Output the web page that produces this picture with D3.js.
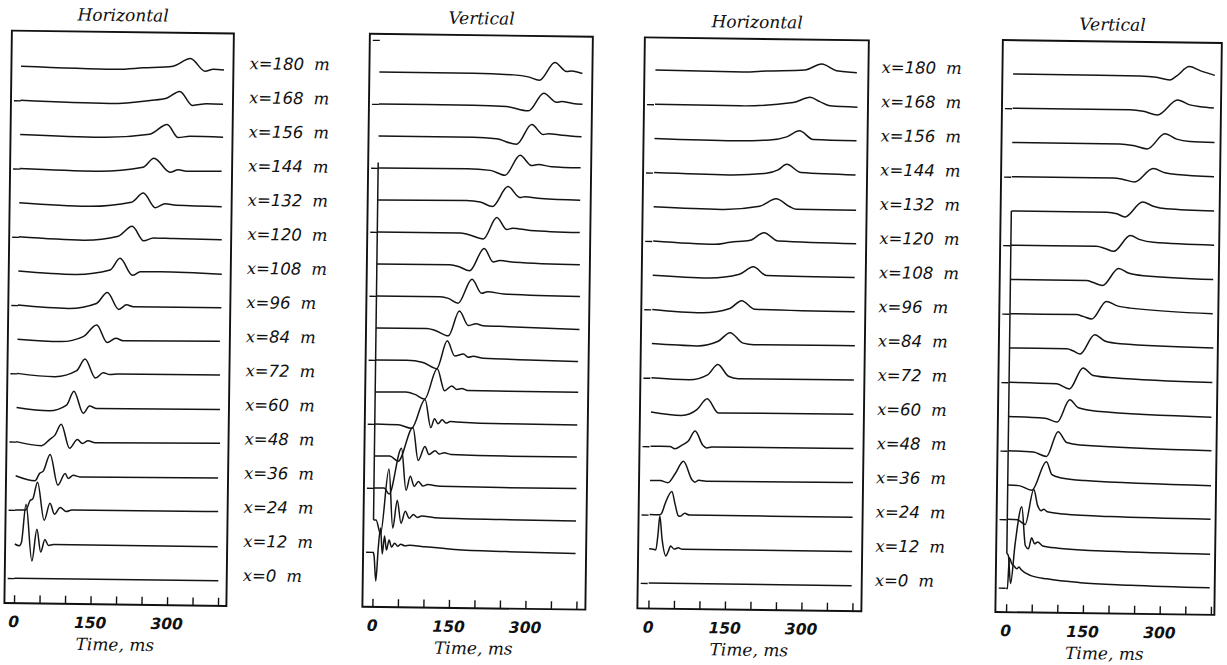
<!DOCTYPE html>
<html>
<head>
<meta charset="utf-8">
<script src="https://cdn.jsdelivr.net/npm/d3@7"></script>
<style>
  body { margin: 0; background: #fff; }
  svg { display: block; }
  .trace { fill: none; stroke: #141414; stroke-width: 1.5; stroke-linejoin: round; }
  .box { fill: none; stroke: #111; stroke-width: 1.9; }
  .axis line { stroke: #111; stroke-width: 1.4; }
  .axis path { display: none; }
  .serif { font-family: "DejaVu Serif", serif; font-style: italic; fill: #111; }
  .sans { font-family: "DejaVu Sans", sans-serif; font-style: oblique; fill: #111; }
</style>
</head>
<body>
<svg id="chart" width="1227" height="665"></svg>
<script>
// receiver offsets, top trace first
const offsets = [180, 168, 156, 144, 132, 120, 108, 96, 84, 72, 60, 48, 36, 24, 12, 0];
const timeTicks = [0, 50, 100, 150, 200, 250, 300, 350, 400];
const timeLabels = [0, 150, 300];
const offsetTicks = [192, 168, 144, 120, 96, 72, 48, 24, 0];

// traces: [time ms, amplitude], same order as offsets
const horizontalA = [
  [[0,0],[187,-1.8],[240,0],[298,2],[332,9.9],[361,-2.6],[377,-0.5],[398,-1]],
  [[0,0],[175,-2],[254,1.6],[286,4],[312,11],[337,-2.8],[365,-1],[397,-1.3]],
  [[0,0],[160,-1.7],[254,2],[288,11.9],[310,-1],[333,0.5],[398,0]],
  [[0,0],[151,-1.7],[242,3],[263,12],[295,-1.7],[311,1],[327,-0.5],[396,0]],
  [[0,0],[135,-2.7],[220,2],[243,11.3],[267,-3.2],[286,1],[308,-0.5],[397,-1.3]],
  [[0,0],[127,-2.5],[195,2],[222,12],[245,-2.3],[264,0.7],[303,0.3],[398,-0.3]],
  [[0,0],[111,-2.7],[180,2.2],[199,14],[224,-2.8],[239,0.8],[278,1],[399,-0.7]],
  [[0,0],[99,-2.7],[154,2.7],[175,13.8],[198,-3],[213,1.7],[226,0],[399,0]],
  [[0,0],[85,-1.8],[129,3.5],[155,15.3],[176,-2.2],[193,2.2],[207,0],[397,0.7]],
  [[0,0],[74,-2.8],[117,3.5],[133,15.3],[154,-3.7],[169,1.8],[182,0],[198,0.7],[398,1]],
  [[0,0],[64,-2.9],[98,3],[112,17],[131,-5],[143,2.5],[157,0],[399,0.7]],
  [[0,0],[50,-3.7],[66,2.7],[76,7],[88,18],[105,-6],[120,3],[130,-1],[141,1.7],[155,0],[400,1]],
  [[0,0],[38,-4.8],[47,2.7],[54,5],[67,21.8],[83,-8.8],[97,3],[103,-2],[113,1.2],[126,-0.3],[397,0.5]],
  [[0,0],[21,0],[29,9.6],[34,11],[43,28],[57,-10],[68,7],[77,-3.8],[88,3],[100,-1],[111,0.7],[398,1]],
  [[0,0],[9,-1.7],[13,1.7],[21,40],[34,-16.7],[43,15],[51,-7.7],[59,5],[66,-1],[76,0],[398,0]],
  [[0,0],[400,0]]
];

const verticalA = [
  [[0,0],[184,0],[263,-1.2],[292,-3],[314,-6.2],[344,11.7],[367,2.8],[377,3.5],[398,1]],
  [[0,0],[185,0],[250,-1],[293,-5],[323,12.8],[348,4],[358,4.7],[380,3],[399,2.3]],
  [[0,0],[186,0],[231,-1.4],[271,-6.5],[300,13.3],[323,3.5],[333,4.5],[360,3],[398,1.7]],
  [[0,0],[174,0.3],[220,-1],[249,-5.7],[278,14.5],[301,4.3],[314,5.5],[340,3.5],[397,2.7]],
  [[0,0],[174,0.5],[201,-0.7],[225,-5.2],[255,15],[279,4.2],[288,5.2],[320,3.5],[397,2.3]],
  [[0,0],[162,0],[178,-1.3],[208,-5.6],[234,16],[254,4],[265,5.5],[300,3.5],[397,2]],
  [[0,0],[143,0],[160,-1.5],[182,-5.7],[210,16.8],[228,3.5],[241,5],[270,3.5],[398,1.7]],
  [[0,0],[125,0],[141,-1.5],[160,-6.3],[187,17.9],[206,4],[218,5.7],[250,3.5],[399,2]],
  [[0,0],[99,0],[115,-1.5],[142,-7],[163,18],[181,3.5],[196,5.5],[210,3.5],[260,3],[399,1]],
  [[0,0],[61,0],[93,-2],[120,-8],[140,20],[155,5],[172,7],[182,3.8],[191,4.9],[211,3],[300,2],[397,1]],
  [[0,0],[60,0.3],[78,-2],[97,-6.5],[121,24],[136,2],[150,7],[160,3.5],[170,4.5],[180,2.7],[260,2.5],[398,2.3]],
  [[0,0],[46,-0.5],[72,-4],[98,25],[110,-3],[117,6],[124,1],[132,5],[140,1.7],[148,3.3],[160,3],[255,1.8],[397,1.6]],
  [[0,0],[30,0],[47,-5],[75,29],[86,-4],[99,10],[107,2],[119,6],[127,2.7],[137,4],[150,2.5],[256,1.5],[397,1.5]],
  [[0,0],[20,0],[30,-6],[53,40],[63,-2],[71,12],[79,2],[87,7],[96,2.5],[105,4],[130,2.5],[250,2],[397,2]],
  [[0,0],[5,0],[14,-14],[29,51],[38,-8],[46,20],[54,-3],[62,9],[70,2],[78,6],[86,3],[94,4.5],[120,3],[250,2],[397,1.5]],
  [[0,0],[2,-4],[6,-29],[10,4],[14,24],[18,-2],[22,16],[26,2],[31,12],[36,5],[42,9],[48,6],[54,8],[62,6.5],[72,7],[95,6],[160,3.5],[260,2],[397,1]]
];

const horizontalB = [
  [[0,0],[172,-0.8],[218,0.5],[293,2],[326,8.2],[355,1.7],[395,0]],
  [[0,0],[167,-0.5],[271,3.5],[304,9],[323,4.8],[343,0.7],[397,-0.3]],
  [[0,0],[158,-1.3],[226,0],[259,3.3],[284,9.6],[311,1],[396,0.3]],
  [[0,0],[146,-1.3],[220,0.8],[243,4.3],[260,10],[288,2],[395,0.3]],
  [[0,0],[133,-1.7],[208,2],[240,9.6],[267,1.8],[280,-0.6],[397,-0.7]],
  [[0,0],[121,-2.5],[151,-0.2],[190,2],[217,9.8],[245,1.7],[398,0]],
  [[0,0],[109,-2],[170,2.2],[197,9.7],[223,1.2],[396,0.3]],
  [[0,0],[97,-2.7],[152,2],[175,9.9],[201,1.6],[397,0.3]],
  [[0,0],[88,-1.7],[130,3.2],[153,12],[179,1.7],[200,0.3],[398,0.5]],
  [[0,0],[74,-1.5],[110,3.7],[130,14.2],[151,2.6],[170,0.3],[397,0.5]],
  [[0,0],[60,-3],[90,3],[110,14],[132,0],[397,0.5]],
  [[0,0],[38,0],[48,-2.3],[61,1.3],[74,5.7],[87,15.7],[103,1.3],[110,-1],[120,0],[398,0.3]],
  [[0,0],[20,0],[35,-2],[49,7],[65,19.5],[82,1.3],[88,-1.2],[95,0.7],[110,0],[398,0.5]],
  [[0,0],[20,0],[24,2],[30,11],[43,23.4],[50,10],[56,-0.6],[60,-1.3],[69,1.7],[78,0],[398,0]],
  [[0,0],[8,-0.5],[13,-1],[17,15],[20,33],[25,10],[33,-7],[37,-3],[42,3],[49,0],[57,1.3],[65,0],[398,0]],
  [[0,0],[398,0]]
];

const verticalB = [
  [[0,0],[248,-0.3],[280,-1.4],[306,-3.9],[319,0],[344,9.7],[365,5.8],[394,1.3]],
  [[0,0],[229,0],[255,-1.3],[283,-4.8],[322,10.5],[346,5.7],[366,4],[393,3]],
  [[0,0],[210,0],[236,-1.4],[264,-4.6],[298,10.7],[321,5.5],[347,3.3],[395,2.7]],
  [[0,0],[198,0],[218,-1.2],[240,-3.7],[276,10],[299,6],[322,4.3],[395,2.7]],
  [[0,0],[186,0],[206,-1.3],[222,-4.5],[256,10.7],[277,6.7],[303,4.3],[396,2.7]],
  [[0,0],[167,0],[184,-2],[201,-4.7],[233,11.2],[252,7.3],[278,4.8],[397,2.7]],
  [[0,0],[149,0],[162,-2],[180,-4.8],[211,12.4],[230,8],[260,5.5],[396,2.6]],
  [[0,0],[130,0],[143,-1.7],[160,-4.2],[188,13.6],[208,9.5],[235,7.2],[396,2.7]],
  [[0,0],[112,0],[125,-2.2],[138,-5],[166,14.4],[186,8.3],[216,5.8],[398,2.7]],
  [[0,0],[93,-1],[118,-5.9],[144,15.3],[164,7.9],[204,5.8],[397,2.3]],
  [[0,0],[71,-1.2],[95,-5],[119,17.5],[136,9.6],[172,6.4],[396,2]],
  [[0,0],[49,-1],[75,-5.2],[97,19.7],[114,9],[140,6.7],[397,2.7]],
  [[0,0],[22,-0.5],[47,-5],[75,23.8],[86,11],[102,8],[150,5.5],[397,2]],
  [[0,0],[20,-0.5],[35,-5],[51,30],[59,14],[66,9],[71,10.5],[78,8],[110,6],[200,4],[397,2.7]],
  [[0,0],[3,-2],[8,-30],[16,10],[28,47],[36,8],[42,5],[48,16],[54,10],[60,12],[70,8],[100,6],[200,3.5],[397,2]],
  [[0,0],[2,-1],[5,30],[10,24],[14,22],[20,19],[24,21],[28,18.5],[46,12.7],[79,9.4],[144,6],[241,4.2],[397,2.6]]
];

// vertical pen stroke at t = 0 inside the vertical panels: [time, from offset, to offset]
const verticalAMarker = [0, 146, 12];
const verticalBMarker = [0, 132, 12];

// layout of the four panels
const panels = [
  { title: "Horizontal", traces: horizontalA, left: 8, right: 230, top: 38.5, bottom: 611,
    t0: 17.6, pxPerMs: 0.51, first: 74, gap: 34.13, labelX: 246, marker: null },
  { title: "Vertical", traces: verticalA, left: 366, right: 589, top: 37, bottom: 610,
    t0: 376, pxPerMs: 0.51, first: 75, gap: 32, labelX: null, marker: verticalAMarker },
  { title: "Horizontal", traces: horizontalB, left: 641, right: 865, top: 37, bottom: 608,
    t0: 652, pxPerMs: 0.51, first: 69.5, gap: 34.2, labelX: 878, marker: null },
  { title: "Vertical", traces: verticalB, left: 999, right: 1218, top: 35, bottom: 607,
    t0: 1009.7, pxPerMs: 0.512, first: 68.8, gap: 34.25, labelX: null, marker: verticalBMarker }
];

const svg = d3.select("#chart");
svg.append("rect").attr("width", 1227).attr("height", 665).attr("fill", "#fff");

// the scanned page sits slightly tilted
const page = svg.append("g").attr("transform", "rotate(0.75 613 332)");

const amp = d3.scaleLinear().domain([0, 10]).range([0, -10]);

panels.forEach(p => {
  const x = d3.scaleLinear().domain([0, 400]).range([p.t0, p.t0 + 400 * p.pxPerMs]);
  const y = d3.scaleLinear().domain([180, 0]).range([p.first, p.first + 15 * p.gap]);
  const g = page.append("g");

  g.append("rect")
    .attr("class", "box")
    .attr("x", p.left)
    .attr("y", p.top)
    .attr("width", p.right - p.left)
    .attr("height", p.bottom - p.top);

  // left ticks, every other trace
  g.append("g")
    .attr("class", "axis")
    .attr("transform", `translate(${p.left + 3},0)`)
    .call(d3.axisLeft(y)
      .tickValues(offsetTicks.filter(v => y(v) > p.top + 2))
      .tickSize(-7)
      .tickFormat(""));

  // time ticks along the bottom
  g.append("g")
    .attr("class", "axis")
    .attr("transform", `translate(0,${p.bottom})`)
    .call(d3.axisBottom(x).tickValues(timeTicks).tickSize(-8).tickFormat(""));

  g.selectAll("text.tick-label")
    .data(timeLabels)
    .join("text")
    .attr("class", "tick-label sans")
    .attr("x", d => x(d))
    .attr("y", p.bottom + 24)
    .attr("text-anchor", "middle")
    .attr("font-size", 15.5)
    .attr("font-weight", "bold")
    .text(d => d);

  g.append("text")
    .attr("class", "serif")
    .attr("x", (p.left + p.right) / 2)
    .attr("y", p.bottom + 46)
    .attr("text-anchor", "middle")
    .attr("font-size", 17)
    .text("Time,  ms");

  g.append("text")
    .attr("class", "serif")
    .attr("x", (p.left + p.right) / 2)
    .attr("y", p.top - 11)
    .attr("text-anchor", "middle")
    .attr("font-size", 17)
    .text(p.title);

  const line = d3.line()
    .x(d => x(d[0]))
    .curve(d3.curveMonotoneX);

  g.selectAll("path.trace")
    .data(p.traces)
    .join("path")
    .attr("class", "trace")
    .attr("d", (tr, i) => line.y(d => y(offsets[i]) + amp(d[1]))(tr));

  if (p.marker) {
    g.append("line")
      .attr("class", "trace")
      .attr("x1", x(p.marker[0]))
      .attr("x2", x(p.marker[0]))
      .attr("y1", y(p.marker[1]))
      .attr("y2", y(p.marker[2]));
  }

  if (p.labelX !== null) {
    const lab = g.selectAll("text.offset-label")
      .data(offsets)
      .join("text")
      .attr("class", "offset-label")
      .attr("x", p.labelX)
      .attr("y", d => y(d))
      .attr("font-size", 16.5);
    lab.append("tspan").attr("class", "serif").text("x");
    lab.append("tspan").attr("class", "sans").text(d => "=" + d);
    lab.append("tspan").attr("class", "serif").attr("dx", 10).text("m");
  }
});
</script>
</body>
</html>
